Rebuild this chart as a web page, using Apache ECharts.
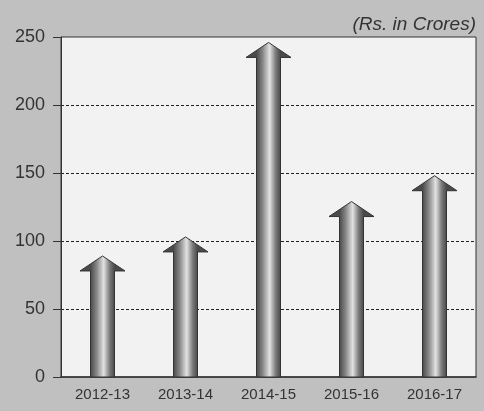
<!DOCTYPE html>
<html>
<head>
<meta charset="utf-8">
<script src="https://cdn.jsdelivr.net/npm/echarts@6/dist/echarts.min.js"></script>
<style>
  html, body { margin: 0; padding: 0; background: #c0c0c0; }
  #chart { width: 484px; height: 411px; }
</style>
</head>
<body>
<div id="chart"></div>
<script>
  const years = ['2012-13', '2013-14', '2014-15', '2015-16', '2016-17'];
  const values = [89, 103, 246, 129, 148];
  const yTicks = { min: 0, max: 250, step: 50 };

  const chart = echarts.init(document.getElementById('chart'));

  // arrow = shaft + triangular head, tip sits at the value
  function drawArrow(params, api) {
    const tip = api.coord([api.value(0), api.value(1)]);
    const base = api.coord([api.value(0), 0]);
    const cx = tip[0];
    const shaft = 12, head = 22.5, headH = 15;
    const yHead = tip[1] + headH;
    return {
      type: 'polygon',
      shape: {
        points: [
          [cx - shaft, base[1]],
          [cx - shaft, yHead],
          [cx - head, yHead],
          [cx, tip[1]],
          [cx + head, yHead],
          [cx + shaft, yHead],
          [cx + shaft, base[1]]
        ]
      },
      style: {
        fill: new echarts.graphic.LinearGradient(cx - shaft, 0, cx + shaft, 0, [
          { offset: 0, color: '#4a4a4a' },
          { offset: 0.25, color: '#858585' },
          { offset: 0.55, color: '#e2e2e2' },
          { offset: 0.8, color: '#7a7a7a' },
          { offset: 1, color: '#4a4a4a' }
        ], true),
        stroke: '#333',
        lineWidth: 1
      }
    };
  }

  chart.setOption({
    backgroundColor: '#c0c0c0',
    textStyle: { fontFamily: 'Liberation Sans, Arial, sans-serif' },
    title: {
      text: '(Rs. in Crores)',
      right: 3,
      top: 10,
      textStyle: { fontStyle: 'italic', fontWeight: 'normal', fontSize: 19, color: '#333' }
    },
    grid: {
      left: 61, right: 8, top: 37, bottom: 34,
      show: true,
      backgroundColor: '#f2f2f2',
      borderColor: '#333',
      borderWidth: 1
    },
    xAxis: {
      type: 'category',
      data: years,
      axisLine: { lineStyle: { color: '#333', width: 1.5 } },
      axisTick: { length: 9, lineStyle: { color: '#333', width: 1.5 } },
      axisLabel: { fontSize: 15, color: '#333', margin: 10 }
    },
    yAxis: {
      type: 'value',
      min: yTicks.min,
      max: yTicks.max,
      interval: yTicks.step,
      axisLine: { show: true, lineStyle: { color: '#333' } },
      axisTick: { show: true, length: 8, lineStyle: { color: '#333' } },
      axisLabel: { fontSize: 18, color: '#333', margin: 16 },
      splitLine: {
        showMinLine: false,
        showMaxLine: false,
        lineStyle: { color: '#222', type: [3, 2], width: 1 }
      }
    },
    series: [{
      type: 'custom',
      renderItem: drawArrow,
      data: years.map((y, i) => [i, values[i]]),
      encode: { x: 0, y: 1 }
    }]
  });
</script>
</body>
</html>
